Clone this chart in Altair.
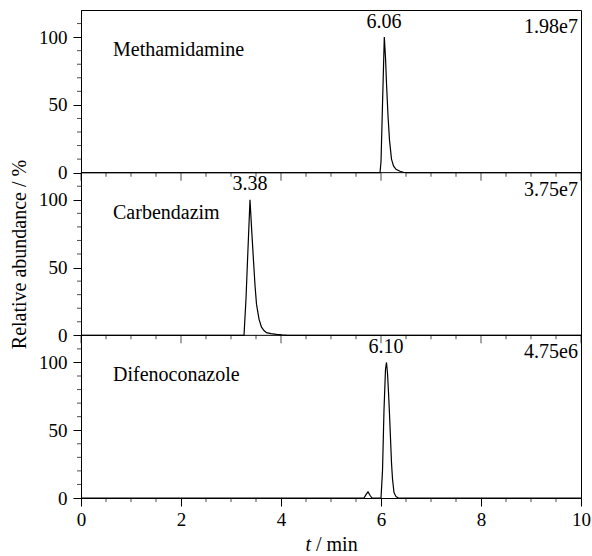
import altair as alt
import pandas as pd

# ---- data ----
compounds = ["Methamidamine", "Carbendazim", "Difenoconazole"]
intensities = ["1.98e7", "3.75e7", "4.75e6"]
peak_times = [6.06, 3.38, 6.10]

meth_t = [0.0, 5.98, 6.00, 6.03, 6.066, 6.09, 6.11, 6.14, 6.17, 6.21, 6.25, 6.30, 6.38, 6.45, 6.52, 10.0]
meth_y = [0, 0, 8, 50, 100, 85, 66, 42, 24, 10, 5, 2.5, 1, 0.3, 0, 0]

carb_t = [0.0, 3.26, 3.30, 3.34, 3.38, 3.41, 3.45, 3.48, 3.51, 3.56, 3.61, 3.66, 3.71, 3.80, 3.91, 4.02, 4.13, 10.0]
carb_y = [0, 0, 27, 64, 100, 80, 55, 37, 23, 12, 6, 3.5, 2, 1.2, 0.7, 0.3, 0, 0]

dife_t = [0.0, 5.66, 5.70, 5.74, 5.78, 5.82, 6.00, 6.03, 6.06, 6.09, 6.11, 6.13, 6.15, 6.17, 6.19, 6.21, 6.23, 6.26, 6.30, 6.35, 10.0]
dife_y = [0, 0, 2.5, 4.5, 2, 0, 0, 20, 65, 95, 100, 92, 78, 62, 44, 26, 14, 4, 1, 0, 0]

x_major = [0, 2, 4, 6, 8, 10]
x_minor = [0.5, 1, 1.5, 2.5, 3, 3.5, 4.5, 5, 5.5, 6.5, 7, 7.5, 8.5, 9, 9.5]
y_major = [0, 50, 100]
y_minor = [10, 20, 30, 40, 60, 70, 80, 90, 110]
panel_span = 120
boundaries = [120, 240]

FONT = "Liberation Serif"

rows = []
for p, (ts, ys) in enumerate([(meth_t, meth_y), (carb_t, carb_y), (dife_t, dife_y)]):
    for t, v in zip(ts, ys):
        rows.append({"panel": p, "t": t, "v": v})
trace = pd.DataFrame(rows)

labels = pd.DataFrame({"panel": [0, 1, 2], "compound": compounds,
                       "intensity": intensities, "peak": peak_times})
labels["peak_txt"] = [f"{p:.2f}" for p in peak_times]

y_major_all = [k * panel_span + v for k in range(3) for v in y_major]
y_minor_all = pd.DataFrame({"yv": [k * panel_span + v for k in range(3) for v in y_minor], "x0": 0})
xmaj_b = pd.DataFrame([{"b": b, "x": x} for b in boundaries for x in x_major])
xmin_b = pd.DataFrame([{"b": b, "x": x} for b in [0] + boundaries for x in x_minor])
brule = pd.DataFrame({"b": boundaries})

xs = alt.Scale(domain=[0, 10], nice=False)
ys = alt.Scale(domain=[0, 360], nice=False)

x_axis = alt.Axis(
    values=x_major, format="d", tickSize=8,
    labelFlush=False, labelOverlap=False, grid=False, title=None,
    labelFont=FONT, labelFontSize=19, labelPadding=4,
    domainColor="black", tickColor="black", labelColor="black",
)
y_axis = alt.Axis(
    values=y_major_all, tickSize=8,
    labelExpr="format(datum.value % 120, 'd')",
    labelOverlap=False, labelFlush=False, grid=False,
    labelFont=FONT, labelFontSize=19, labelPadding=6,
    domainColor="black", tickColor="black", labelColor="black",
    title="Relative abundance / %", titleFont=FONT, titleFontSize=20,
    titleFontWeight="normal", titleColor="black",
    titleX=-62, titleY=244, titleAngle=270, titleAlign="center", titleBaseline="middle",
)

lines = alt.Chart(trace).transform_calculate(
    y="datum.v + (2 - datum.panel) * 120"
).mark_line(color="black", strokeWidth=1.2, clip=True).encode(
    x=alt.X("t:Q", scale=xs, axis=x_axis),
    y=alt.Y("y:Q", scale=ys, axis=y_axis),
    detail="panel:N",
)

rules = alt.Chart(brule).mark_rule(color="black", strokeWidth=1).encode(
    y=alt.Y("b:Q", scale=ys)
)

major_ticks = alt.Chart(xmaj_b).mark_tick(
    orient="vertical", size=8, thickness=1, yOffset=4, color="black"
).encode(x=alt.X("x:Q", scale=xs), y=alt.Y("b:Q", scale=ys))

minor_ticks = alt.Chart(xmin_b).mark_tick(
    orient="vertical", size=4, thickness=1, yOffset=2, color="black"
).encode(x=alt.X("x:Q", scale=xs), y=alt.Y("b:Q", scale=ys))

y_minor_ticks = alt.Chart(y_minor_all).mark_tick(
    orient="horizontal", size=4, thickness=1, xOffset=-2, color="black"
).encode(x=alt.X("x0:Q", scale=xs), y=alt.Y("yv:Q", scale=ys))

base_lab = alt.Chart(labels).transform_calculate(off="(2 - datum.panel) * 120")

names = base_lab.transform_calculate(yy="datum.off + 86", xx="0.64").mark_text(
    align="left", baseline="alphabetic", font=FONT, fontSize=20, color="black"
).encode(x=alt.X("xx:Q", scale=xs), y=alt.Y("yy:Q", scale=ys), text="compound:N")

peaks = base_lab.transform_calculate(yy="datum.off + 107").mark_text(
    align="center", baseline="alphabetic", font=FONT, fontSize=20, color="black"
).encode(x=alt.X("peak:Q", scale=xs), y=alt.Y("yy:Q", scale=ys), text="peak_txt:N")

ints = base_lab.transform_calculate(yy="datum.off + 103", xx="10").mark_text(
    align="right", baseline="alphabetic", font=FONT, fontSize=20, color="black", dx=-3
).encode(x=alt.X("xx:Q", scale=xs), y=alt.Y("yy:Q", scale=ys), text="intensity:N")

t_title = alt.Chart(pd.DataFrame({"s": ["t"]})).mark_text(
    align="right", baseline="alphabetic", font=FONT, fontSize=20, fontStyle="italic",
    color="black", dx=-20
).encode(x=alt.datum(5, scale=xs), y=alt.value(541), text="s:N")

min_title = alt.Chart(pd.DataFrame({"s": ["/ min"]})).mark_text(
    align="left", baseline="alphabetic", font=FONT, fontSize=20, color="black", dx=-15
).encode(x=alt.datum(5, scale=xs), y=alt.value(541), text="s:N")

chart = alt.layer(
    rules, major_ticks, minor_ticks, y_minor_ticks, lines, names, peaks, ints, t_title, min_title
).properties(
    width=500, height=488,
    autosize=alt.AutoSizeParams(type="none"),
    padding={"left": 81, "top": 10, "right": 11, "bottom": 58},
    background="white",
).configure(font=FONT).configure_view(stroke="black", strokeWidth=1)

chart.save("out.html", embed_options={"renderer": "svg", "actions": False})
